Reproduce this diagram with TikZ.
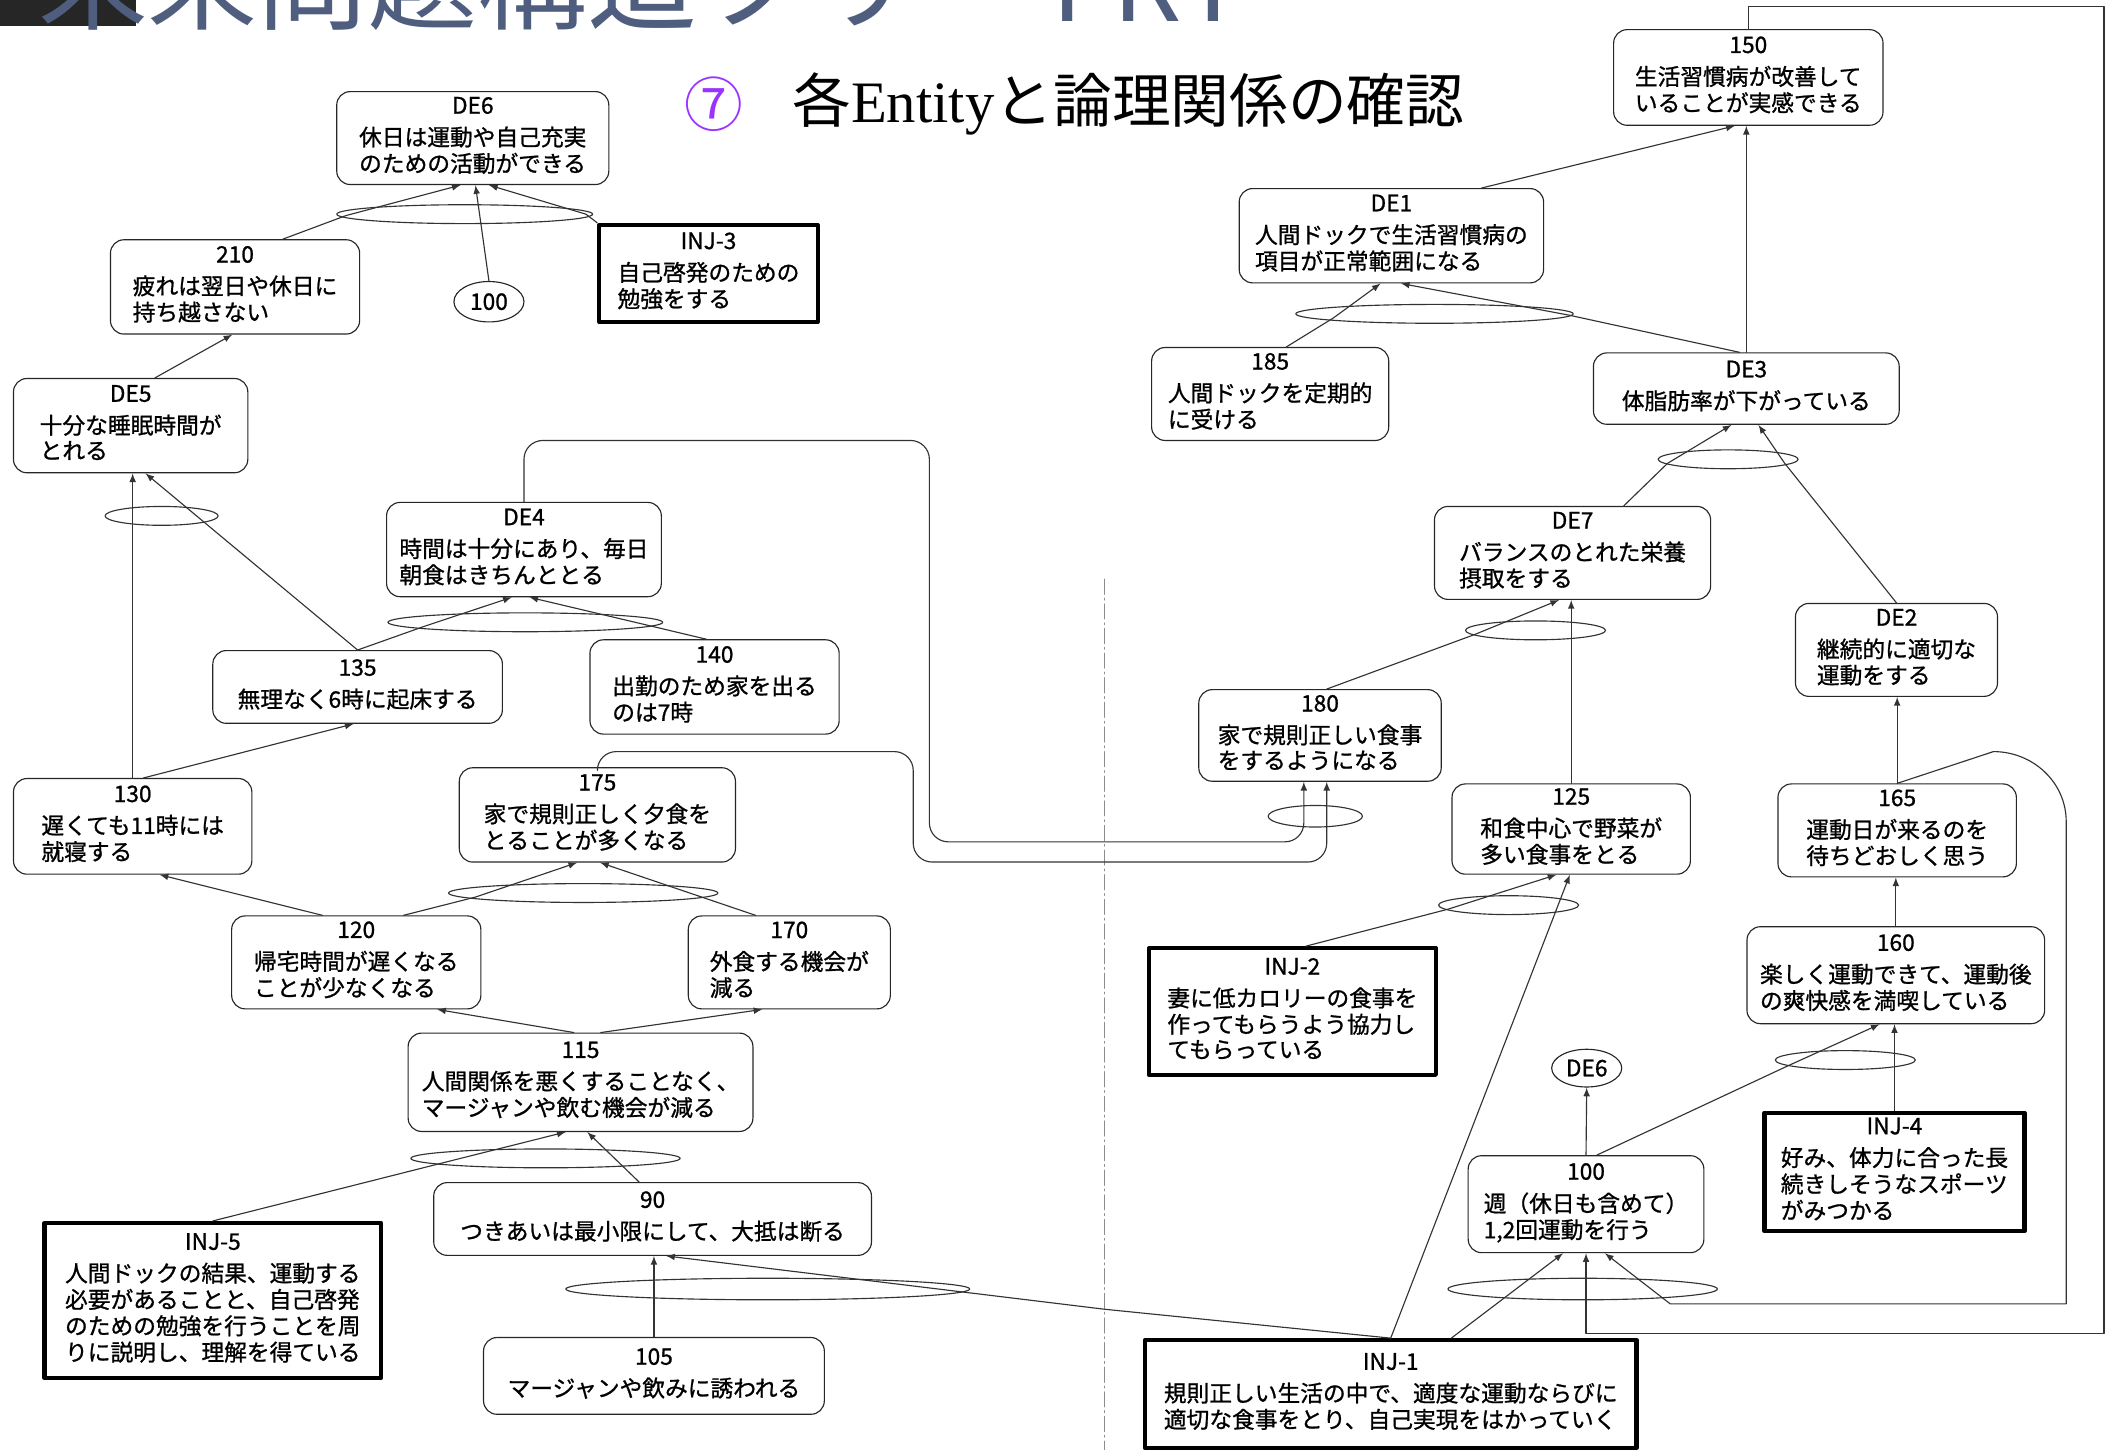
\documentclass[tikz,border=0pt]{standalone}
\usepackage{fontspec}
\setmainfont{Noto Sans CJK JP}
\newfontfamily\entfont{Liberation Serif}
\newfontfamily\boxfont{Noto Sans CJK JP}[FakeBold=1]
\usetikzlibrary{shapes.geometric,calc}

\definecolor{titleblue}{HTML}{4F5E7E}
\definecolor{markpurple}{HTML}{9933FF}

\newcommand{\entbox}[2]{\begin{tabular}{@{}l@{}}\multicolumn{1}{@{}c@{}}{#1}\\[3pt]#2\end{tabular}}

\tikzset{
	sz/.style 2 args={minimum width=#1*0.025cm, minimum height=#2*0.025cm},
	ent/.style={draw=black!85, line width=0.6pt, rounded corners=0.25cm, inner sep=0pt, font=\boxfont\fontsize{12}{12.6}\selectfont},
	inj/.style={draw=black, line width=2.2pt, inner sep=0pt, font=\boxfont\fontsize{12}{12.6}\selectfont},
	andel/.style={ellipse, draw=black!80, line width=0.6pt, inner sep=0pt},
	oval/.style={ellipse, draw=black!85, line width=0.6pt, inner sep=0pt, font=\boxfont\fontsize{12}{12.6}\selectfont},
	arr/.style={draw=black!80, line width=0.6pt, -latex},
	fold/.style={draw=black!45, line width=0.5pt, dash pattern=on 8pt off 2pt on 1pt off 2pt}
}

\begin{document}
\begin{tikzpicture}[line cap=round,line join=round,x=0.025cm,y=-0.025cm]
			\useasboundingbox (0,0) rectangle (1568,1076.5);
			
			\node[fill=black!85, sz={101}{19}, anchor=north west, inner sep=0pt] (logo) at (0,0) {};
			\node[anchor=base west, text=titleblue, font=\fontsize{58}{58}\selectfont, inner sep=0pt] (title) at (28,16) {未来問題構造ツリー FRT};
			\node[text=markpurple, font=\fontsize{31}{31}\selectfont, inner sep=0pt] (mark) at (530,77) {⑦};
			\node[anchor=west, font=\fontsize{31}{31}\selectfont, inner sep=0pt] (subtitle) at (588,77) {各{\entfont Entity}と論理関係の確認};
			
			\draw[fold] (820,430) -- (820,1077);
			
			% left half
			\node[ent, sz={202}{69}] (de6) at (351,102.5) {\entbox{DE6}{休日は運動や自己充実\\のための活動ができる}};
			\node[ent, sz={185}{70}] (n210) at (174.5,213) {\entbox{210}{疲れは翌日や休日に\\持ち越さない}};
			\node[oval, sz={52}{30}] (c100) at (363,224) {100};
			\node[inj, sz={162}{72}] (inj3) at (526,203) {\entbox{INJ-3}{自己啓発のための\\勉強をする}};
			\node[ent, sz={174}{70}] (de5) at (97,316) {\entbox{DE5}{十分な睡眠時間が\\とれる}};
			\node[ent, sz={204}{70}] (de4) at (389,408) {\entbox{DE4}{時間は十分にあり、毎日\\朝食はきちんととる}};
			\node[ent, sz={215}{54}] (n135) at (265.5,510) {\entbox{135}{無理なく6時に起床する}};
			\node[ent, sz={185}{70}] (n140) at (530.5,510) {\entbox{140}{出勤のため家を出る\\のは7時}};
			\node[ent, sz={177}{71}] (n130) at (98.5,613.5) {\entbox{130}{遅くても11時には\\就寝する}};
			\node[ent, sz={205}{70}] (n175) at (443.5,605) {\entbox{175}{家で規則正しく夕食を\\とることが多くなる}};
			\node[ent, sz={185}{69}] (n120) at (264.5,714.5) {\entbox{120}{帰宅時間が遅くなる\\ことが少なくなる}};
			\node[ent, sz={150}{69}] (n170) at (586,714.5) {\entbox{170}{外食する機会が\\減る}};
			\node[ent, sz={256}{73}] (n115) at (431,803.5) {\entbox{115}{人間関係を悪くすることなく、\\マージャンや飲む機会が減る}};
			\node[inj, sz={250}{115}] (inj5) at (158,965.5) {\entbox{INJ-5}{人間ドックの結果、運動する\\必要があることと、自己啓発\\のための勉強を行うことを周\\りに説明し、理解を得ている}};
			\node[ent, sz={325}{54}] (n90) at (484.5,905) {\entbox{90}{つきあいは最小限にして、大抵は断る}};
			\node[ent, sz={253}{57}] (n105) at (485.5,1021.5) {\entbox{105}{マージャンや飲みに誘われる}};
			
			% right half
			\node[ent, sz={200}{71}] (n150) at (1298,57.5) {\entbox{150}{生活習慣病が改善して\\いることが実感できる}};
			\node[ent, sz={226}{70}] (de1) at (1033,175) {\entbox{DE1}{人間ドックで生活習慣病の\\項目が正常範囲になる}};
			\node[ent, sz={176}{69}] (n185) at (943,292.5) {\entbox{185}{人間ドックを定期的\\に受ける}};
			\node[ent, sz={227}{53}] (de3) at (1296.5,288.5) {\entbox{DE3}{体脂肪率が下がっている}};
			\node[ent, sz={205}{69}] (de7) at (1167.5,410.5) {\entbox{DE7}{バランスのとれた栄養\\摂取をする}};
			\node[ent, sz={150}{69}] (de2) at (1408,482.5) {\entbox{DE2}{継続的に適切な\\運動をする}};
			\node[ent, sz={180}{68}] (n180) at (980,546) {\entbox{180}{家で規則正しい食事\\をするようになる}};
			\node[ent, sz={177}{67}] (n125) at (1166.5,615.5) {\entbox{125}{和食中心で野菜が\\多い食事をとる}};
			\node[ent, sz={177}{69}] (n165) at (1408.5,616.5) {\entbox{165}{運動日が来るのを\\待ちどおしく思う}};
			\node[inj, sz={213}{94}] (inj2) at (959.5,751) {\entbox{INJ-2}{妻に低カロリーの食事を\\作ってもらうよう協力し\\てもらっている}};
			\node[ent, sz={221}{72}] (n160) at (1407.5,724) {\entbox{160}{楽しく運動できて、運動後\\の爽快感を満喫している}};
			\node[oval, sz={52}{28}] (c6) at (1178,793) {DE6};
			\node[inj, sz={193}{88}] (inj4) at (1406.5,870) {\entbox{INJ-4}{好み、体力に合った長\\続きしそうなスポーツ\\がみつかる}};
			\node[ent, sz={175}{72}] (n100) at (1177.5,894) {\entbox{100}{週（休日も含めて）\\1,2回運動を行う}};
			\node[inj, sz={365}{80}] (inj1) at (1032.5,1035) {\entbox{INJ-1}{規則正しい生活の中で、適度な運動ならびに\\適切な食事をとり、自己実現をはかっていく}};
			
			% AND ellipses
			\node[andel, sz={190}{14}] (e6) at (345,159) {};
			\node[andel, sz={84}{14}] (e5) at (120,383) {};
			\node[andel, sz={204}{14}] (e4) at (390,462) {};
			\node[andel, sz={200}{14}] (e175) at (433,663) {};
			\node[andel, sz={200}{14}] (e115) at (405,860) {};
			\node[andel, sz={300}{16}] (e90) at (570,957) {};
			\node[andel, sz={206}{14}] (e1) at (1065,233) {};
			\node[andel, sz={104}{14}] (e3) at (1283,341) {};
			\node[andel, sz={104}{14}] (e7) at (1140,468) {};
			\node[andel, sz={70}{16}] (e180) at (976.5,606) {};
			\node[andel, sz={104}{14}] (e125) at (1120,672) {};
			\node[andel, sz={104}{14}] (e160) at (1370,787) {};
			\node[andel, sz={200}{16}] (e100) at (1175,957) {};
			
			% left connectors
			\draw[arr] (n210.45) -- ($(e6)+(-88,1)$) -- ($(de6.south)+(-9,0)$);
			\draw[arr] (c100.north) -- ($(de6.south)+(2,0)$);
			\draw[arr] (inj3.north west) -- ($(e6)+(90,0)$) -- ($(de6.south)+(12,0)$);
			\draw[arr] ($(de5.north)+(18,0)$) -- ($(n210.south)+(-2,0)$);
			\draw[arr] (n130.north) -- (n130.north |- de5.south);
			\draw[arr] (n135.north) -- ($(de5.south)+(11,0)$);
			\draw[arr] (n135.north) -- ($(e4)+(-75,3)$) -- ($(de4.south)+(-9,0)$);
			\draw[arr] ($(n140.north)+(-6,0)$) -- ($(e4)+(90,2)$) -- ($(de4.south)+(4,0)$);
			\draw[arr] ($(n130.north)+(8,0)$) -- ($(n135.south)+(-3,0)$);
			\draw[arr] ($(n120.north)+(-25,0)$) -- ($(n130.south)+(20,0)$);
			\draw[arr] ($(n120.north)+(35,0)$) -- ($(e175)+(-80,3)$) -- ($(n175.south)+(-15,0)$);
			\draw[arr] ($(n170.north)+(-25,0)$) -- ($(e175)+(85,2)$) -- ($(n175.south)+(2,0)$);
			\draw[arr] ($(n115.north)+(-5,0)$) -- ($(n120.south)+(60,0)$);
			\draw[arr] ($(n115.north)+(15,0)$) -- ($(n170.south)+(-20,0)$);
			\draw[arr] (inj5.north) -- ($(e115)+(-75,3)$) -- ($(n115.south)+(-11,0)$);
			\draw[arr] ($(n90.north)+(-10,0)$) -- ($(n115.south)+(5,0)$);
			\draw[arr] (n105.north) -- (n105.north |- n90.south);
			\draw[arr] (inj1.north) -- (820,972) -- ($(n90.south)+(10,0)$);
			
			% lines across the fold
			\draw[arr, rounded corners=0.35cm] (de4.north) |- (690,327) |- (968,625) -- ($(n180.south)+(-12,0)$);
			\draw[arr, rounded corners=0.35cm] (n175.north) |- (678,558) |- (985,640) -- ($(n180.south)+(5,0)$);
			
			% right connectors
			\draw[arr] ($(de1.north)+(67,0)$) -- ($(n150.south)+(-10,0)$);
			\draw[arr] (de3.north) -- (de3.north |- n150.south);
			\draw[arr] ($(n185.north)+(12,0)$) -- ($(e1)+(-75,3)$) -- ($(de1.south)+(-8,0)$);
			\draw[arr] ($(de3.north)+(-5,0)$) -- ($(e1)+(100,1)$) -- ($(de1.south)+(7,0)$);
			\draw[arr] ($(de7.north)+(38,0)$) -- ($(e3)+(-45,3)$) -- ($(de3.south)+(-11,0)$);
			\draw[arr] (de2.north) -- ($(e3)+(42,3)$) -- ($(de3.south)+(9,0)$);
			\draw[arr] ($(n180.north)+(5,0)$) -- ($(e7)+(-45,3)$) -- ($(de7.south)+(-10,0)$);
			\draw[arr] (n125.north) -- (n125.north |- de7.south);
			\draw[arr] ($(inj2.north)+(10,0)$) -- ($(e125)+(-45,3)$) -- ($(n125.south)+(-11,0)$);
			\draw[arr] (inj1.north) -- ($(n125.south)+(-1,0)$);
			\draw[arr] (n165.north) -- (n165.north |- de2.south);
			\draw[arr] (n160.north) -- (n160.north |- n165.south);
			\draw[arr] ($(n100.north)+(8,0)$) -- ($(e160)+(-42,4)$) -- ($(n160.south)+(-12,0)$);
			\draw[arr] (inj4.north) -- (inj4.north |- n160.south);
			\draw[arr] (n100.north) -- (c6.south);
			\draw[arr] ($(inj1.north)+(45,0)$) -- ($(n100.south)+(-17,0)$);
			\draw[arr] (n150.north) |- (1562,5) |- (1177.5,990) -- (n100.south);
			\draw[arr] (n165.north) -- (1480,558) to[out=0,in=90] (1534,610) -- (1534,968) -- (1240,968) -- ($(n100.south)+(14,0)$);
%			\draw[arr] (e100) -- (n100);
		\end{tikzpicture}
\end{document}
